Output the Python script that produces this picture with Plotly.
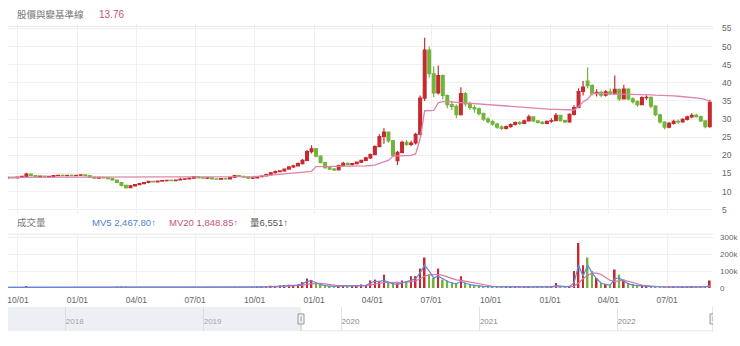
import pandas as pd
import plotly.graph_objects as go

# ---------------- data (weekly) ----------------
start_date = "2019-09-16"
n_weeks = 156
dates = pd.date_range(start_date, periods=n_weeks, freq="7D")

opens = [13.8,13.9,13.8,14.0,14.2,14.8,14.4,14.2,14.3,14.1,
         14.2,14.4,14.5,14.4,14.5,14.4,14.5,14.6,14.4,14.0,
         13.7,13.9,13.8,13.6,13.2,12.5,11.7,11.1,11.6,11.9,
         12.2,12.5,12.8,12.7,12.9,13.0,13.1,13.0,13.2,13.4,
         13.5,13.7,14.1,13.8,13.7,13.8,13.5,13.4,13.6,13.5,
         13.9,14.4,14.2,14.0,13.7,13.8,14.1,14.3,14.7,15.2,
         15.5,15.7,16.2,16.8,17.1,17.7,18.6,21.0,21.8,19.8,
         18.0,16.6,16.2,16.0,17.2,17.8,17.4,17.7,18.1,18.6,
         19.3,20.2,22.4,25.2,26.4,24.0,18.5,20.8,23.6,23.0,
         23.4,25.8,35.8,49.0,42.5,37.2,42.0,36.5,34.0,33.5,
         31.2,37.0,34.2,33.2,32.8,31.5,30.0,29.3,28.6,27.8,
         27.4,27.9,28.5,29.0,28.8,29.5,30.6,29.5,29.1,28.8,
         29.4,29.6,31.0,29.6,29.2,31.3,33.2,37.6,40.5,39.2,
         37.0,37.4,36.6,37.5,37.0,38.2,35.6,38.3,35.6,34.8,
         34.0,35.9,36.0,33.6,31.2,29.2,27.8,28.8,29.4,29.2,
         29.9,30.6,31.0,30.7,29.5,27.9]

closes = [13.9,13.8,14.0,14.2,14.8,14.4,14.2,14.3,14.1,14.2,
          14.4,14.5,14.4,14.5,14.4,14.5,14.6,14.4,14.0,13.7,
          13.9,13.8,13.6,13.2,12.5,11.7,11.1,11.6,11.9,12.2,
          12.5,12.8,12.7,12.9,13.0,13.1,13.0,13.2,13.4,13.5,
          13.7,14.1,13.8,13.7,13.8,13.5,13.4,13.6,13.5,13.9,
          14.4,14.2,14.0,13.7,13.8,14.1,14.3,14.7,15.2,15.5,
          15.7,16.2,16.8,17.1,17.7,18.6,21.0,21.8,19.8,18.0,
          16.6,16.2,16.0,17.2,17.8,17.4,17.7,18.1,18.6,19.3,
          20.2,22.4,25.2,26.4,24.0,19.9,20.8,23.6,23.0,23.4,
          25.8,35.8,49.0,42.5,37.2,42.0,36.5,34.0,33.5,31.2,
          37.0,34.2,33.2,32.8,31.5,30.0,29.3,28.6,27.8,27.4,
          27.9,28.5,29.0,28.8,29.5,30.6,29.5,29.1,28.8,29.4,
          29.6,31.0,29.6,29.2,31.3,33.2,37.6,38.8,39.2,37.0,
          37.4,36.6,37.5,37.0,38.2,35.6,38.3,35.6,34.8,34.0,
          35.9,36.0,33.6,31.2,29.2,27.8,28.8,29.4,29.2,29.9,
          30.6,31.0,30.7,29.5,27.9,34.6]

highs = [14.0,14.0,14.1,14.3,15.2,15.0,14.5,14.4,14.4,14.3,
         14.5,14.6,14.7,14.6,14.7,14.6,14.7,14.7,14.5,14.1,
         14.0,14.1,14.0,13.7,13.3,12.6,11.9,11.8,12.0,12.4,
         12.6,12.9,13.0,13.0,13.2,13.2,13.3,13.3,13.8,13.6,
         13.8,14.3,14.2,14.0,13.9,13.9,13.7,13.7,13.8,14.0,
         14.6,14.6,14.4,14.1,13.9,14.2,14.4,14.9,15.4,15.8,
         15.9,16.4,17.0,17.4,18.0,19.0,21.5,22.8,22.0,20.0,
         18.2,16.9,16.5,17.5,18.2,18.0,17.9,18.3,18.8,19.6,
         20.5,22.8,25.8,27.5,26.6,24.2,21.2,24.0,24.2,24.0,
         26.2,36.5,52.4,50.0,44.5,44.8,42.3,36.8,35.0,34.0,
         38.8,37.5,34.8,33.8,33.2,31.8,30.5,29.8,29.0,28.3,
         28.2,28.8,29.3,29.5,29.8,31.2,30.8,29.7,29.5,29.6,
         30.2,31.7,31.2,29.8,31.6,33.8,38.5,40.5,44.2,39.6,
         38.2,37.8,38.0,38.4,42.0,38.4,39.5,38.5,36.0,35.2,
         36.3,36.6,36.2,33.8,31.5,29.4,29.2,29.8,29.9,30.2,
         30.9,31.6,31.5,30.9,29.7,35.3]

lows = [13.7,13.7,13.7,13.9,14.1,14.3,14.1,14.0,14.0,13.9,
        14.1,14.2,14.3,14.2,14.3,14.2,14.3,14.3,13.9,13.5,
        13.6,13.7,13.4,13.0,12.3,11.4,10.8,11.0,11.5,11.8,
        12.0,12.3,12.6,12.5,12.8,12.8,12.9,12.9,13.1,13.2,
        13.4,13.6,13.7,13.6,13.5,13.4,13.3,13.3,13.3,13.4,
        13.8,14.1,13.9,13.5,13.5,13.7,14.0,14.2,14.6,15.0,
        15.3,15.5,16.0,16.5,16.9,17.5,18.4,20.5,19.5,17.8,
        16.3,15.9,15.7,15.9,17.0,17.2,17.2,17.5,17.9,18.4,
        19.0,20.0,22.2,23.2,23.5,19.5,17.3,20.5,22.6,22.5,
        23.0,25.5,35.0,41.5,36.0,36.8,35.5,33.0,32.5,30.2,
        31.0,33.5,32.5,31.8,31.0,29.5,28.8,28.2,27.3,27.0,
        27.1,27.6,28.2,28.4,28.6,29.3,29.2,28.8,28.5,28.6,
        29.0,29.4,29.3,28.9,29.0,31.0,33.0,36.5,38.5,36.5,
        36.2,36.0,36.2,36.6,36.8,35.0,35.4,35.2,34.3,33.4,
        33.8,35.3,33.0,30.8,28.8,27.2,27.5,28.5,28.8,29.0,
        29.6,30.2,30.4,29.2,27.5,27.6]

baseline = ([13.9] * 40 + [14.0] * 14 +
            [14.1,14.2,14.3,14.4,14.5,14.6,14.7,14.9,15.0,15.1,15.2,15.3,15.4,15.6,
             16.9,16.9,16.9,16.9,17.0,17.0,17.0,17.0,17.0,17.0,17.1,17.1,17.2,17.3,
             17.8,18.2,18.6,19.8,19.8,19.9,19.9,20.0,
             20.4,24.5,32.3,32.4,32.4,34.5,34.8,
             34.8,34.7,34.6,34.6,34.5,34.4,34.3,34.2,34.1,34.0,
             33.9,33.8,33.7,33.6,33.5,33.4,33.3,33.2,33.1,33.0,
             32.9,32.8,32.8,32.7,32.7,32.6,32.6,32.5,32.5,
             33.4,34.8,35.5,37.1,
             37.1,37.0,37.0,37.0,36.9,36.9,36.9,36.9,36.8,36.8,
             36.8,36.7,36.7,36.6,36.6,36.5,36.5,36.4,36.3,36.2,
             36.1,36.0,35.9,35.7,35.4,34.8])

volume = [4000,3000,4000,3000,12000,5000,4000,3000,3000,4000,
          3000,3000,4000,3000,3000,4000,3000,3000,4000,5000,
          4000,3000,4000,5000,6000,8000,7000,5000,4000,4000,
          3000,3000,3000,3000,3000,3000,3000,3000,4000,3000,
          3000,5000,4000,3000,3000,3000,3000,3000,3000,4000,
          5000,4000,3000,3000,
          5000,6000,8000,10000,14000,12000,16000,18000,20000,15000,
          22000,35000,56000,48000,30000,22000,18000,12000,10000,14000,
          12000,10000,12000,14000,22000,16000,45000,50000,40000,79000,
          35000,30000,28000,45000,40000,70000,70000,115000,180000,80000,
          60000,115000,50000,45000,35000,30000,70000,30000,25000,20000,
          15000,12000,10000,9000,8000,8000,7000,7000,8000,7000,
          8000,10000,8000,7000,6000,7000,8000,30000,12000,10000,
          12000,100000,266000,135000,180000,100000,60000,30000,25000,20000,
          110000,80000,50000,30000,25000,20000,15000,12000,10000,10000,
          8000,8000,7000,6000,6000,7000,6000,6000,6000,7000,
          8000,45000]

mv5 = [4000,4000,4000,4000,6000,6000,5000,4000,4000,4000,
       4000,4000,4000,4000,4000,4000,4000,4000,4000,4000,
       4000,4000,4000,4000,5000,6000,7000,6000,5000,4000,
       4000,3000,3000,3000,3000,3000,3000,3000,3000,3000,
       3000,4000,4000,4000,3000,3000,3000,3000,3000,3000,
       4000,4000,4000,3000,
       4000,5000,6000,8000,10000,12000,13000,15000,17000,16000,
       18000,25000,40000,43000,30000,20000,15000,12000,10000,11000,
       12000,11000,11000,12000,15000,15000,30000,40000,40000,45000,
       35000,25000,22000,30000,35000,45000,55000,90000,135000,100000,
       60000,70000,55000,40000,30000,25000,40000,30000,20000,16000,
       12000,10000,9000,8000,8000,7000,7000,7000,7000,7000,
       7000,8000,8000,7000,6000,6000,7000,15000,10000,9000,
       10000,30000,135000,70000,135000,90000,55000,30000,20000,18000,
       55000,60000,40000,25000,18000,15000,12000,10000,9000,8000,
       7000,7000,6000,6000,6000,6000,6000,6000,6000,6000,
       7000,15000]

mv20 = [4000,4000,4000,4000,5000,5000,5000,5000,4000,4000,
        4000,4000,4000,4000,4000,4000,4000,4000,4000,4000,
        4000,4000,4000,4000,4000,5000,5000,5000,5000,5000,
        4000,4000,4000,4000,3000,3000,3000,3000,3000,3000,
        3000,3000,3000,3000,3000,3000,3000,3000,3000,3000,
        3000,3000,3000,3000,
        4000,4000,5000,5000,6000,7000,8000,9000,11000,12000,
        14000,17000,22000,26000,28000,28000,26000,22000,18000,15000,
        14000,13000,13000,13000,14000,15000,20000,25000,28000,32000,
        33000,33000,32000,33000,35000,38000,42000,55000,70000,78000,
        80000,80000,75000,65000,55000,48000,45000,40000,35000,28000,
        22000,18000,14000,11000,9000,8000,8000,7000,7000,7000,
        7000,7000,7000,7000,7000,7000,7000,8000,9000,9000,
        9000,12000,30000,55000,75000,88000,88000,80000,65000,45000,
        40000,42000,45000,40000,32000,25000,18000,14000,11000,9000,
        8000,7000,7000,7000,6000,6000,6000,6000,6000,6000,
        6000,9000]

price_ticks = [5, 10, 15, 20, 25, 30, 35, 40, 45, 50, 55]
vol_ticks = [0, 100000, 200000, 300000]
vol_tick_text = ["0", "100k", "200k", "300k"]

title_text = "股價與變基準線"
title_value = "13.76"
vol_title = "成交量"
mv5_text = "MV5 2,467.80↑"
mv20_text = "MV20 1,848.85↑"
vol_text = "量6,551↑"

# ---------------- style ----------------
W, H = 740, 346
UP = "#c62a2f"
DOWN = "#72b43a"
PINK = "#de84ab"
PINK_TXT = "#c9507e"
BLUE = "#4f7fd1"
GRID = "#f0f0f0"
TXT = "#666666"
FONT = "Liberation Sans, Arial, Noto Sans CJK TC, sans-serif"

x_start = "2019-09-15 13:00"
x_end = "2022-09-10"
nav_start = "2017-08-01"


def py(p):
    return 1 - p / H


def pxx(p):
    return p / W


xdom = [pxx(7), pxx(713)]

fig = go.Figure()
fig.add_trace(go.Candlestick(
    x=dates, open=opens, high=highs, low=lows, close=closes,
    increasing=dict(line=dict(color=UP, width=1.2), fillcolor=UP),
    decreasing=dict(line=dict(color=DOWN, width=1.2), fillcolor=DOWN),
    whiskerwidth=0, xaxis="x", yaxis="y", showlegend=False, hoverinfo="none"))
fig.add_trace(go.Scatter(x=dates, y=baseline, mode="lines",
                         line=dict(color=PINK, width=1.3),
                         xaxis="x", yaxis="y", showlegend=False, hoverinfo="none"))

bar_colors = [UP if c >= o else DOWN for o, c in zip(opens, closes)]
fig.add_trace(go.Bar(x=dates, y=volume, marker=dict(color=bar_colors, line=dict(width=0)),
                     width=2.6 * 86400000, xaxis="x2", yaxis="y2",
                     showlegend=False, hoverinfo="none"))
fig.add_trace(go.Scatter(x=dates, y=mv20, mode="lines", line=dict(color="#e0739d", width=1.2),
                         xaxis="x2", yaxis="y2", showlegend=False, hoverinfo="none"))
fig.add_trace(go.Scatter(x=dates, y=mv5, mode="lines", line=dict(color="#5b8be0", width=1.2),
                         xaxis="x2", yaxis="y2", showlegend=False, hoverinfo="none"))
# navigator (series hidden)
fig.add_trace(go.Scatter(x=dates, y=closes, mode="lines", line=dict(width=0, color="rgba(0,0,0,0)"),
                         xaxis="x3", yaxis="y3", showlegend=False, hoverinfo="none"))

axis_font = dict(family=FONT, size=8.5, color=TXT)

fig.update_layout(
    width=W, height=H,
    margin=dict(l=0, r=0, t=0, b=0),
    paper_bgcolor="white", plot_bgcolor="white",
    hovermode=False, dragmode=False, showlegend=False,
    boxgap=0.12,
    font=dict(family=FONT, size=9.5, color=TXT),
    xaxis=dict(domain=xdom, anchor="y", type="date", range=[x_start, x_end],
               showticklabels=False, showgrid=True, gridcolor=GRID, gridwidth=1,
               dtick="M3", tick0="2019-10-01", ticks="", zeroline=False, showline=False,
               rangeslider=dict(visible=False), fixedrange=True),
    yaxis=dict(domain=[py(216), py(22)], anchor="x", side="right", range=[3.92, 56.35],
               tickvals=price_ticks, showgrid=True, gridcolor=GRID, zeroline=False,
               ticks="", tickfont=axis_font, ticklabelstandoff=8, fixedrange=True),
    xaxis2=dict(domain=xdom, anchor="y2", type="date", matches="x",
                showgrid=True, gridcolor=GRID, dtick="M3", tick0="2019-10-01",
                tickformat="%m/%d", ticks="", zeroline=False, showline=False,
                tickfont=axis_font, ticklabelstandoff=5, fixedrange=True),
    yaxis2=dict(domain=[py(292), py(238)], anchor="x2", side="right", range=[0, 311500],
                tickvals=vol_ticks, ticktext=vol_tick_text, showgrid=True, gridcolor=GRID,
                zeroline=False, ticks="", tickfont=dict(family=FONT, size=8, color=TXT),
                ticklabelstandoff=6, fixedrange=True),
    xaxis3=dict(domain=xdom, anchor="y3", type="date", range=[nav_start, x_end],
                showgrid=True, gridcolor="#e3e3e3", dtick="M12", tick0="2018-01-01",
                tickformat="%Y", ticklabelposition="inside right", ticks="",
                tickfont=dict(family=FONT, size=8, color="#888888"),
                zeroline=False, showline=False, fixedrange=True),
    yaxis3=dict(domain=[py(336), py(311)], anchor="x3", range=[0, 1],
                showticklabels=False, showgrid=False, zeroline=False, showline=False,
                ticks="", fixedrange=True),
)

shapes = [
    dict(type="line", xref="paper", yref="paper", x0=pxx(7), x1=pxx(713), y0=py(25), y1=py(25),
         line=dict(color="#e8e8e8", width=1)),
    dict(type="line", xref="paper", yref="paper", x0=pxx(7), x1=pxx(713), y0=py(237), y1=py(237),
         line=dict(color="#e8e8e8", width=1)),
    # navigator mask (unselected part)
    dict(type="rect", xref="x3", yref="y3", x0=nav_start, x1=x_start, y0=0, y1=1,
         fillcolor="rgba(205,214,224,0.38)", line=dict(width=0), layer="above"),
    # navigator outline
    dict(type="line", xref="x3", yref="y3", x0=x_start, x1=x_end, y0=0, y1=0,
         line=dict(color="#c8c8c8", width=1)),
    dict(type="line", xref="x3", yref="y3", x0=x_start, x1=x_start, y0=0, y1=0.72,
         line=dict(color="#c8c8c8", width=1)),
    dict(type="line", xref="x3", yref="y3", x0=x_end, x1=x_end, y0=0, y1=1,
         line=dict(color="#c8c8c8", width=1)),
]
for hx in [x_start, x_end]:
    shapes.append(dict(type="rect", xref="x3", yref="y3", xsizemode="pixel", xanchor=hx,
                       x0=-3, x1=3, ysizemode="pixel", yanchor=0.5, y0=-5, y1=5,
                       fillcolor="#f2f2f2", line=dict(color="#999999", width=1)))
    shapes.append(dict(type="line", xref="x3", yref="y3", xsizemode="pixel", xanchor=hx,
                       x0=0, x1=0, ysizemode="pixel", yanchor=0.5, y0=-2.5, y1=2.5,
                       line=dict(color="#999999", width=1)))
fig.update_layout(shapes=shapes)

ann = [
    dict(text=title_text, x=pxx(14), y=py(13), font=dict(size=9.5, color="#777777")),
    dict(text=title_value, x=pxx(96), y=py(13), font=dict(size=10, color=PINK_TXT)),
    dict(text=vol_title, x=pxx(14), y=py(225), font=dict(size=9.5, color="#777777")),
    dict(text=mv5_text, x=pxx(89), y=py(225), font=dict(size=9.5, color=BLUE)),
    dict(text=mv20_text, x=pxx(166), y=py(225), font=dict(size=9.5, color=PINK_TXT)),
    dict(text=vol_text, x=pxx(247), y=py(225), font=dict(size=9.5, color="#555555")),
]
for a in ann:
    a.update(xref="paper", yref="paper", xanchor="left", yanchor="middle", showarrow=False)
fig.update_layout(annotations=ann)

fig.write_html("out.html")
